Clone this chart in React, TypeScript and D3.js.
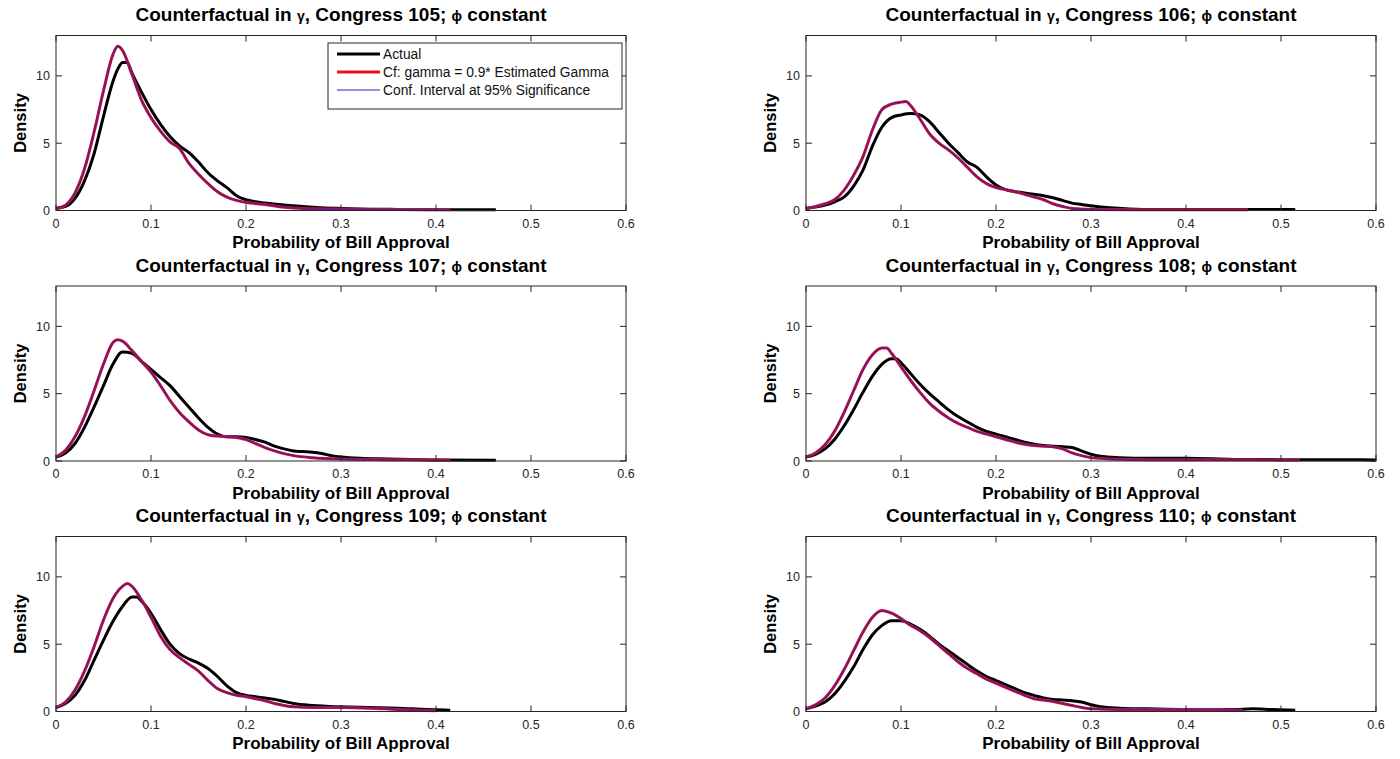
import React from "react";
import * as d3 from "d3";

type Pt = [number, number];

const congresses = [105, 106, 107, 108, 109, 110];
const xTicks = [0, 0.1, 0.2, 0.3, 0.4, 0.5, 0.6];
const yTicks = [0, 5, 10];
const legendLabels = ["Actual", "Cf: gamma = 0.9* Estimated Gamma", "Conf. Interval at 95% Significance"];

const actual105: Pt[] = [[0,0.15],[0.01,0.3],[0.02,0.9],[0.03,2.2],[0.04,4.2],[0.05,7.0],[0.06,9.6],[0.065,10.5],[0.07,11.0],[0.075,11.0],[0.08,10.2],[0.09,8.8],[0.1,7.5],[0.11,6.4],[0.12,5.5],[0.13,4.8],[0.14,4.3],[0.15,3.6],[0.16,2.8],[0.17,2.2],[0.18,1.7],[0.19,1.1],[0.2,0.8],[0.21,0.65],[0.22,0.55],[0.24,0.4],[0.26,0.3],[0.28,0.2],[0.3,0.15],[0.33,0.1],[0.36,0.08],[0.4,0.06],[0.43,0.06],[0.463,0.05]];
const cf105: Pt[] = [[0,0.15],[0.01,0.4],[0.02,1.3],[0.03,3.1],[0.04,5.8],[0.05,8.9],[0.06,11.6],[0.065,12.2],[0.07,11.9],[0.08,10.1],[0.09,8.2],[0.1,6.9],[0.11,5.9],[0.12,5.1],[0.13,4.6],[0.14,3.5],[0.15,2.7],[0.16,2.0],[0.17,1.4],[0.18,1.0],[0.19,0.75],[0.2,0.6],[0.22,0.45],[0.24,0.25],[0.26,0.15],[0.3,0.1],[0.35,0.08],[0.4,0.08],[0.415,0.07]];

const actual106: Pt[] = [[0,0.15],[0.01,0.25],[0.02,0.4],[0.03,0.65],[0.04,1.0],[0.05,1.8],[0.06,3.0],[0.07,4.8],[0.08,6.2],[0.09,6.9],[0.1,7.1],[0.11,7.2],[0.12,7.1],[0.13,6.6],[0.14,5.8],[0.15,5.0],[0.16,4.3],[0.17,3.6],[0.18,3.2],[0.19,2.5],[0.2,1.9],[0.21,1.55],[0.22,1.4],[0.23,1.3],[0.24,1.2],[0.25,1.1],[0.26,0.95],[0.27,0.75],[0.28,0.55],[0.29,0.45],[0.3,0.35],[0.32,0.2],[0.34,0.12],[0.37,0.08],[0.45,0.08],[0.515,0.07]];
const cf106: Pt[] = [[0,0.15],[0.01,0.3],[0.02,0.5],[0.03,0.8],[0.04,1.5],[0.05,2.6],[0.06,4.0],[0.07,6.0],[0.08,7.5],[0.09,7.9],[0.1,8.05],[0.105,8.1],[0.11,7.8],[0.12,6.8],[0.13,5.7],[0.14,5.0],[0.15,4.5],[0.16,3.9],[0.17,3.2],[0.18,2.5],[0.19,2.0],[0.2,1.7],[0.21,1.55],[0.22,1.4],[0.23,1.2],[0.24,1.0],[0.25,0.8],[0.26,0.5],[0.27,0.3],[0.28,0.15],[0.3,0.08],[0.35,0.05],[0.4,0.05],[0.465,0.05]];

const actual107: Pt[] = [[0,0.3],[0.01,0.6],[0.02,1.3],[0.03,2.5],[0.04,4.0],[0.05,5.6],[0.06,7.2],[0.07,8.1],[0.08,8.0],[0.09,7.4],[0.1,6.8],[0.11,6.2],[0.12,5.6],[0.13,4.8],[0.14,4.0],[0.15,3.2],[0.16,2.5],[0.17,2.0],[0.18,1.8],[0.19,1.8],[0.2,1.75],[0.21,1.6],[0.22,1.4],[0.23,1.1],[0.24,0.9],[0.25,0.75],[0.26,0.7],[0.27,0.65],[0.28,0.55],[0.29,0.4],[0.3,0.3],[0.32,0.2],[0.35,0.15],[0.4,0.08],[0.463,0.05]];
const cf107: Pt[] = [[0,0.3],[0.01,0.8],[0.02,1.8],[0.03,3.3],[0.04,5.2],[0.05,7.2],[0.06,8.8],[0.065,9.0],[0.07,8.9],[0.08,8.2],[0.09,7.4],[0.1,6.6],[0.11,5.6],[0.12,4.5],[0.13,3.6],[0.14,2.9],[0.15,2.3],[0.16,1.95],[0.17,1.85],[0.18,1.8],[0.19,1.75],[0.2,1.6],[0.21,1.3],[0.22,1.0],[0.23,0.75],[0.24,0.55],[0.25,0.4],[0.27,0.25],[0.3,0.15],[0.35,0.1],[0.4,0.07],[0.415,0.07]];

const actual108: Pt[] = [[0,0.3],[0.01,0.5],[0.02,0.9],[0.03,1.6],[0.04,2.6],[0.05,3.8],[0.06,5.1],[0.07,6.3],[0.08,7.2],[0.09,7.6],[0.095,7.6],[0.1,7.3],[0.11,6.5],[0.12,5.7],[0.13,5.0],[0.14,4.4],[0.15,3.8],[0.16,3.3],[0.17,2.9],[0.18,2.5],[0.19,2.2],[0.2,2.0],[0.21,1.8],[0.22,1.6],[0.23,1.4],[0.24,1.25],[0.25,1.15],[0.26,1.1],[0.27,1.05],[0.28,1.0],[0.29,0.75],[0.3,0.5],[0.31,0.35],[0.33,0.25],[0.36,0.2],[0.4,0.2],[0.45,0.12],[0.5,0.1],[0.55,0.1],[0.6,0.08]];
const cf108: Pt[] = [[0,0.3],[0.01,0.6],[0.02,1.2],[0.03,2.2],[0.04,3.6],[0.05,5.2],[0.06,6.8],[0.07,7.9],[0.08,8.4],[0.085,8.4],[0.09,8.0],[0.1,7.0],[0.11,6.0],[0.12,5.1],[0.13,4.3],[0.14,3.7],[0.15,3.2],[0.16,2.8],[0.17,2.5],[0.18,2.2],[0.19,2.0],[0.2,1.8],[0.21,1.6],[0.22,1.4],[0.23,1.25],[0.24,1.15],[0.25,1.1],[0.26,1.05],[0.27,0.9],[0.28,0.6],[0.29,0.4],[0.3,0.25],[0.32,0.15],[0.36,0.1],[0.42,0.1],[0.5,0.08],[0.52,0.08]];

const actual109: Pt[] = [[0,0.3],[0.01,0.6],[0.02,1.2],[0.03,2.3],[0.04,3.8],[0.05,5.3],[0.06,6.7],[0.07,7.8],[0.08,8.5],[0.085,8.5],[0.09,8.2],[0.1,7.3],[0.11,6.1],[0.12,5.0],[0.13,4.3],[0.14,3.9],[0.15,3.6],[0.16,3.2],[0.17,2.6],[0.18,1.9],[0.19,1.4],[0.2,1.2],[0.21,1.1],[0.22,1.0],[0.23,0.9],[0.24,0.75],[0.25,0.6],[0.27,0.45],[0.3,0.35],[0.33,0.3],[0.36,0.25],[0.39,0.15],[0.415,0.1]];
const cf109: Pt[] = [[0,0.3],[0.01,0.7],[0.02,1.6],[0.03,3.0],[0.04,4.8],[0.05,6.8],[0.06,8.4],[0.07,9.3],[0.075,9.5],[0.08,9.3],[0.09,8.3],[0.1,7.0],[0.11,5.6],[0.12,4.6],[0.13,4.0],[0.14,3.5],[0.15,3.0],[0.16,2.3],[0.17,1.7],[0.18,1.4],[0.19,1.2],[0.2,1.1],[0.21,0.95],[0.22,0.8],[0.23,0.6],[0.24,0.45],[0.25,0.35],[0.27,0.3],[0.3,0.3],[0.33,0.25],[0.36,0.15],[0.38,0.1],[0.4,0.05]];

const actual110: Pt[] = [[0,0.2],[0.01,0.4],[0.02,0.7],[0.03,1.3],[0.04,2.2],[0.05,3.3],[0.06,4.6],[0.07,5.7],[0.08,6.4],[0.09,6.75],[0.1,6.75],[0.11,6.5],[0.12,6.1],[0.13,5.6],[0.14,5.0],[0.15,4.5],[0.16,4.0],[0.17,3.5],[0.18,3.0],[0.19,2.6],[0.2,2.3],[0.21,2.0],[0.22,1.7],[0.23,1.4],[0.24,1.2],[0.25,1.0],[0.26,0.9],[0.27,0.85],[0.28,0.8],[0.29,0.7],[0.3,0.5],[0.31,0.35],[0.33,0.25],[0.36,0.2],[0.4,0.15],[0.45,0.15],[0.47,0.2],[0.49,0.15],[0.515,0.1]];
const cf110: Pt[] = [[0,0.2],[0.01,0.5],[0.02,1.0],[0.03,1.9],[0.04,3.1],[0.05,4.5],[0.06,5.9],[0.07,7.0],[0.08,7.5],[0.09,7.3],[0.1,6.9],[0.11,6.4],[0.12,6.0],[0.13,5.5],[0.14,4.9],[0.15,4.3],[0.16,3.7],[0.17,3.2],[0.18,2.8],[0.19,2.4],[0.2,2.1],[0.21,1.8],[0.22,1.5],[0.23,1.2],[0.24,0.95],[0.25,0.85],[0.26,0.75],[0.27,0.6],[0.28,0.45],[0.29,0.3],[0.3,0.2],[0.33,0.15],[0.4,0.15],[0.43,0.15],[0.46,0.1]];

const actualSeries = [actual105, actual106, actual107, actual108, actual109, actual110];
const cfSeries = [cf105, cf106, cf107, cf108, cf109, cf110];

const W = 1400;
const H = 759;
const colX = [56, 806];
const rowY = [35.5, 286, 536.5];
const PW = 570;
const PH = 175;
const FONT = "'Liberation Sans', Arial, Helvetica, sans-serif";
const TICK = 6;

function Panel({ idx }: { idx: number }) {
  const left = colX[idx % 2];
  const top = rowY[Math.floor(idx / 2)];
  const x = d3.scaleLinear().domain([0, 0.6]).range([left, left + PW]);
  const y = d3.scaleLinear().domain([0, 13]).range([top + PH, top]);
  const line = d3
    .line<Pt>()
    .x((d) => x(d[0]))
    .y((d) => y(d[1]))
    .curve(d3.curveMonotoneX);
  const bottom = top + PH;
  const right = left + PW;
  const axisColor = "#262626";
  return (
    <g>
      <text
        x={left + PW / 2}
        y={top - 14.5}
        textAnchor="middle"
        fontFamily={FONT}
        fontWeight="bold"
        fontSize={19}
        fill="#000"
      >
        Counterfactual in <tspan fontSize={14}>γ</tspan>, Congress {congresses[idx]}; <tspan fontSize={14}>ϕ</tspan> constant
      </text>
      <path d={line(actualSeries[idx]) || ""} fill="none" stroke="#000" strokeWidth={3} strokeLinejoin="round" />
      <path d={line(cfSeries[idx]) || ""} fill="none" stroke="#e8101c" strokeWidth={3} strokeLinejoin="round" />
      <path d={line(cfSeries[idx]) || ""} fill="none" stroke="#2a1fb8" strokeWidth={1.8} strokeOpacity={0.65} strokeLinejoin="round" />
      <rect x={left} y={top} width={PW} height={PH} fill="none" stroke={axisColor} strokeWidth={1} />
      {xTicks.map((t) => (
        <g key={"x" + t}>
          <line x1={x(t)} x2={x(t)} y1={bottom} y2={bottom - TICK} stroke={axisColor} />
          <line x1={x(t)} x2={x(t)} y1={top} y2={top + TICK} stroke={axisColor} />
          <text x={x(t)} y={bottom + 17} textAnchor="middle" fontFamily={FONT} fontSize={12.5} fill="#262626">
            {d3.format("")(t)}
          </text>
        </g>
      ))}
      {yTicks.map((t) => (
        <g key={"y" + t}>
          <line x1={left} x2={left + TICK} y1={y(t)} y2={y(t)} stroke={axisColor} />
          <line x1={right} x2={right - TICK} y1={y(t)} y2={y(t)} stroke={axisColor} />
          <text x={left - 6} y={y(t) + 4.5} textAnchor="end" fontFamily={FONT} fontSize={12.5} fill="#262626">
            {t}
          </text>
        </g>
      ))}
      <text
        x={left + PW / 2}
        y={bottom + 37.5}
        textAnchor="middle"
        fontFamily={FONT}
        fontWeight="bold"
        fontSize={17}
        fill="#000"
      >
        Probability of Bill Approval
      </text>
      <text
        transform={`translate(${left - 30},${top + PH / 2}) rotate(-90)`}
        textAnchor="middle"
        fontFamily={FONT}
        fontWeight="bold"
        fontSize={16.5}
        fill="#000"
      >
        Density
      </text>
    </g>
  );
}

function Legend() {
  const lx = 328;
  const ly = 43;
  const rowsY = [54, 72, 90];
  const styles = [
    { stroke: "#000", w: 3 },
    { stroke: "#e8101c", w: 3 },
    { stroke: "#2a1fb8", w: 1 },
  ];
  return (
    <g>
      <rect x={lx} y={ly} width={294} height={66} fill="#fff" stroke="#262626" strokeWidth={1} />
      {legendLabels.map((lab, i) => (
        <g key={lab}>
          <line x1={337} x2={380} y1={rowsY[i]} y2={rowsY[i]} stroke={styles[i].stroke} strokeWidth={styles[i].w} />
          <text x={383} y={rowsY[i] + 5} fontFamily={FONT} fontSize={13.8} fill="#111">
            {lab}
          </text>
        </g>
      ))}
    </g>
  );
}

export default function App() {
  return (
    <svg
      width={W}
      height={H}
      viewBox={`0 0 ${W} ${H}`}
      style={{ position: "absolute", left: 0, top: 0, background: "#fff" }}
    >
      <rect x={0} y={0} width={W} height={H} fill="#fff" />
      {congresses.map((c, i) => (
        <Panel key={c} idx={i} />
      ))}
      <Legend />
    </svg>
  );
}
